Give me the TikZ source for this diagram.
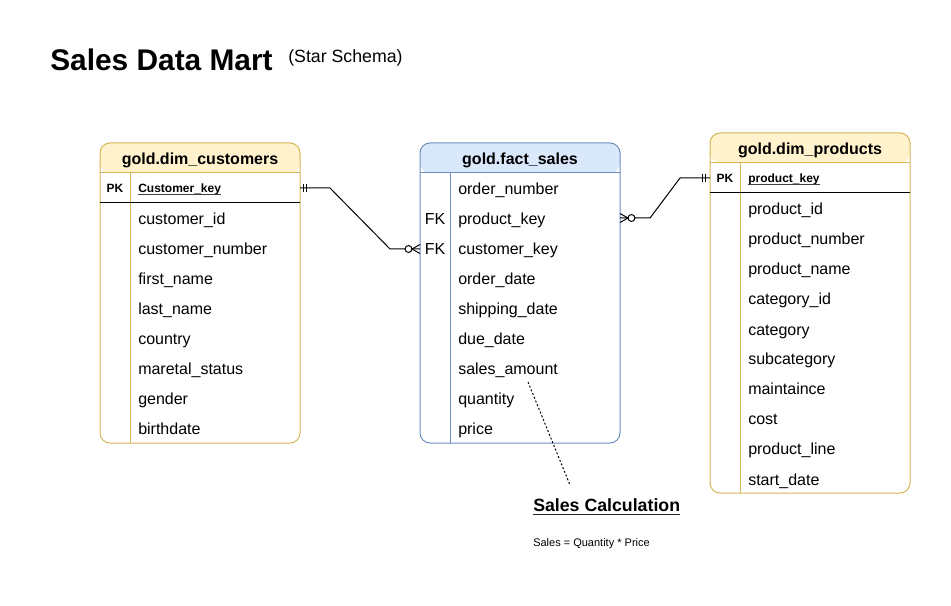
\documentclass[tikz,border=0pt]{standalone}
\usepackage{fontspec}
\setmainfont{Liberation Sans}
\definecolor{yfill}{HTML}{FFF2CC}
\definecolor{ydraw}{HTML}{D6B656}
\definecolor{bfill}{HTML}{DAE8FC}
\definecolor{bdraw}{HTML}{6C8EBF}
\tikzset{
  rowtxt/.style={anchor=base west, inner sep=0pt, font=\fontsize{12}{14}\selectfont},
  keytxt/.style={anchor=base, inner sep=0pt, font=\fontsize{9}{11}\selectfont\bfseries},
  keyname/.style={anchor=base west, inner sep=0pt, font=\fontsize{9}{11}\selectfont\bfseries},
  fktxt/.style={anchor=base, inner sep=0pt, font=\fontsize{12}{14}\selectfont},
  headtxt/.style={anchor=base, inner sep=0pt, font=\fontsize{12}{14}\selectfont\bfseries},
  link/.style={line width=0.75pt, black},
  uline/.style={line width=0.6pt, black!75},
}
\begin{document}
\begin{tikzpicture}[x=0.75pt,y=-0.75pt]
\useasboundingbox (0,0) rectangle (951,606);

% title
\node[anchor=base west, inner sep=0pt, font=\fontsize{22.4}{26}\selectfont\bfseries] (title) at (50,70.5) {Sales Data Mart};
\node[anchor=base west, inner sep=0pt, font=\fontsize{13.3}{16}\selectfont] (sub) at (288,63) {(Star Schema)};

% ---------- customers ----------
\fill[yfill, rounded corners=7.5pt] (100,173) -- (100,143) -- (300,143) -- (300,173) -- cycle;
\draw[ydraw, line width=0.75pt, rounded corners=7.5pt] (100,143) rectangle (300,443);
\draw[ydraw, line width=0.75pt] (100,173) -- (300,173);
\draw[ydraw, line width=0.75pt] (130,173) -- (130,443);
\draw[black, line width=0.75pt] (100,203) -- (300,203);
\node[headtxt] (custh) at (200,165) {gold.dim\_customers};
\node[keytxt] (custpk) at (115,192.3) {PK};
\node[keyname] (custkey) at (138,192.3) {Customer\_key};
\draw[uline] ([yshift=-1.4pt]custkey.base west) -- ([yshift=-1.4pt]custkey.base east);
\foreach \t [count=\i] in {customer\_id,customer\_number,first\_name,last\_name,country,maretal\_status,gender,birthdate}{
  \node[rowtxt] (cr\i) at (138,{195+30*\i}) {\t};
}
\coordinate (custE) at (300,188);

% ---------- fact ----------
\fill[bfill, rounded corners=7.5pt] (420,173) -- (420,143) -- (620,143) -- (620,173) -- cycle;
\draw[bdraw, line width=0.75pt, rounded corners=7.5pt] (420,143) rectangle (620,443);
\draw[bdraw, line width=0.75pt] (420,173) -- (620,173);
\draw[bdraw, line width=0.75pt] (450,173) -- (450,443);
\node[headtxt] (facth) at (520,165) {gold.fact\_sales};
\foreach \t [count=\i] in {order\_number,product\_key,customer\_key,order\_date,shipping\_date,due\_date,sales\_amount,quantity,price}{
  \node[rowtxt] (fr\i) at (458,{165+30*\i}) {\t};
}
\node[fktxt] (fk1) at (435,225) {FK};
\node[fktxt] (fk2) at (435,255) {FK};
\coordinate (factW) at (420,249);
\coordinate (factE) at (620,218);

% ---------- products ----------
\fill[yfill, rounded corners=7.5pt] (710,163) -- (710,133) -- (910,133) -- (910,163) -- cycle;
\draw[ydraw, line width=0.75pt, rounded corners=7.5pt] (710,133) rectangle (910,493);
\draw[ydraw, line width=0.75pt] (710,163) -- (910,163);
\draw[ydraw, line width=0.75pt] (740,163) -- (740,493);
\draw[black, line width=0.75pt] (710,193) -- (910,193);
\node[headtxt] (prodh) at (810,155) {gold.dim\_products};
\node[keytxt] (prodpk) at (725,182.3) {PK};
\node[keyname] (prodkey) at (748,182.3) {product\_key};
\draw[uline] ([yshift=-1.4pt]prodkey.base west) -- ([yshift=-1.4pt]prodkey.base east);
\foreach \t [count=\i] in {product\_id,product\_number,product\_name,category\_id,category,subcategory,maintaince,cost,product\_line,start\_date}{
  \node[rowtxt] (pr\i) at (748,{185+30*\i}) {\t};
}
\coordinate (prodW) at (710,178);

% ---------- connectors ----------
\coordinate (l1a) at (330,188);
\coordinate (l1b) at (390,249);
\draw[link] (custE) -- (l1a) -- (l1b) -- (factW);
\draw[link] (303,184) -- (303,192);
\draw[link] (306,184) -- (306,192);
\draw[link] (412,249) -- (420,244.5);
\draw[link] (412,249) -- (420,253.5);
\draw[link, fill=white] (408.5,249) circle[radius=2.6pt];

\coordinate (l2a) at (650,218);
\coordinate (l2b) at (680,178);
\draw[link] (factE) -- (l2a) -- (l2b) -- (prodW);
\draw[link] (702,174) -- (702,182);
\draw[link] (705,174) -- (705,182);
\draw[link] (628,218) -- (620,213.5);
\draw[link] (628,218) -- (620,222.5);
\draw[link, fill=white] (631.5,218) circle[radius=2.6pt];

% ---------- note ----------
\node[anchor=base west, inner sep=0pt, font=\fontsize{13.3}{16}\selectfont\bfseries] (calc) at (533,511.7) {Sales Calculation};
\draw[line width=1pt, black!85] ([yshift=-2pt]calc.base west) -- ([yshift=-2pt]calc.base east);
\node[anchor=base west, inner sep=0pt, font=\fontsize{8.25}{10}\selectfont] (formula) at (533,546) {Sales = Quantity * Price};
\coordinate (noteTop) at (570,485);
\coordinate (salesPt) at (528,382);
\draw[line width=0.75pt, dash pattern=on 1.5pt off 1.5pt] (salesPt) -- (noteTop);
\end{tikzpicture}
\end{document}
